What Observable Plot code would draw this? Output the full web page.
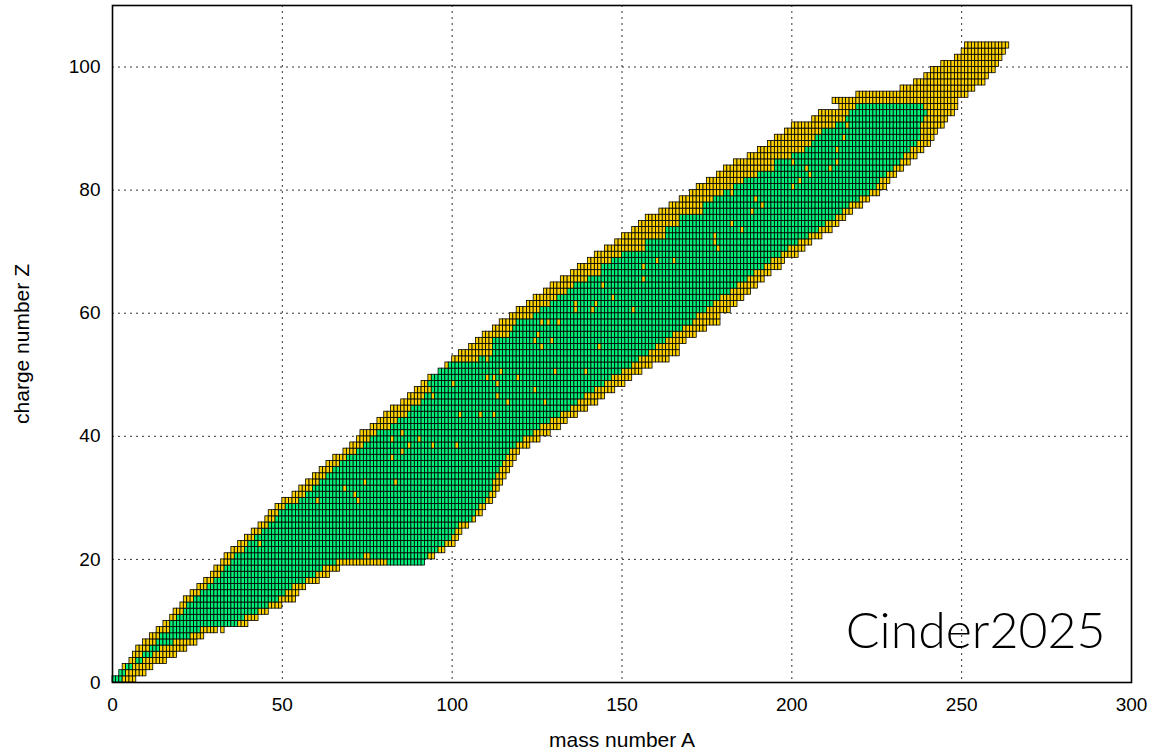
<!DOCTYPE html>
<html>
<head>
<meta charset="utf-8">
<script src="https://cdn.jsdelivr.net/npm/d3@7"></script>
<script src="https://cdn.jsdelivr.net/npm/@observablehq/plot@0.6"></script>
<style>
  body { margin: 0; background: #fff; }
  #chart svg { display: block; }
</style>
</head>
<body>
<div id="chart"></div>
<script>
// Charge number Z of each row of the nuclide map
const zRows = d3.range(0, 104);

// Lightest and heaviest mass number A present in each row
const aFirst = [0,2,3,5,6,7,9,11,13,15, 17,18,20,21,23,25,27,29,30,32,
  33,35,37,39,41,43,45,46,48,50, 53,55,57,59,61,63,65,68,70,72,
  73,76,78,80,82,85,87,89,91,93, 96,98,100,102,105,107,109,112,114,117,
  119,122,124,127,129,132,135,137,140,142, 145,148,150,153,155,157,161,164,167,170,
  172,175,178,180,183,187,190,193,195,198, 200,206,208,214,212,219,232,236,239,241,
  244,248,250,251];
const aLast = [6,9,11,15,18,21,24,26,30,39, 42,45,49,53,54,56,60,63,66,91,
  94,97,100,101,102,104,106,108,109,111, 112,113,114,115,116,117,118,119,122,125,
  128,131,133,136,139,142,144,147,150,152, 155,158,163,166,166,168,171,174,178,178,
  181,183,185,187,189,191,193,196,197,201, 203,205,208,211,213,215,217,220,222,225,
  227,228,230,232,234,236,238,240,241,242, 244,245,247,248,248,251,253,256,257,259,
  260,261,262,263];

// Mass range of the green core of each row (null: row has no green cells)
const greenFirst = [0,2,4,7,9,11,13,14,17,17, 19,21,22,24,26,28,30,32,33,35,
  36,39,40,42,44,46,48,49,51,55, 57,59,61,63,65,67,69,72,74,76,
  78,82,84,87,88,91,92,94,93,94, 96,99,108,112,112,112,117,118,119,124,
  126,129,131,134,136,140,144,144,147,150, 157,157,163,163,167,167,174,174,177,180,
  183,186,190,195,195,199,204,206,207,209, 213,216,217,219,null,null,null,null,null,null,
  null,null,null,null];
const greenLast = [2,3,5,8,11,13,17,22,25,36, 38,42,45,48,50,52,56,59,61,91,
  92,95,97,99,100,101,105,106,107,109, 110,111,111,112,113,114,115,116,118,120,
  123,125,128,131,134,136,138,141,144,146, 149,152,154,157,159,162,164,167,170,171,
  174,176,178,181,183,186,188,191,193,196, 198,201,204,207,209,212,214,216,219,222,
  224,225,227,229,231,232,234,236,237,237, 237,238,239,238,null,null,null,null,null,null,
  null,null,null,null];

// Gold run inside the green core
const runZ = [19];
const runFirst = [66];
const runLast = [80];

// Isolated gold cells
const strayZ = [8,20,20,22,29,29,30,31,32,32,36,37,38,38,38,39,39,40,43,43,43,45,45,46,46,47,
  48,48,49,49,49,50,50,50,52,54,54,55,55,56,58,58,58,60,60,60,61,61,62,64,65,67,68,68,
  70,71,72,73,74,76,77,78,79,79,80,81,82,83,83,84,84,85,86,88,90];
const strayA = [32,74,75,43,60,72,71,68,74,83,82,85,87,94,101,82,90,85,102,108,112,116,127,94,113,124,
  100,113,110,112,119,114,130,139,110,126,143,124,129,125,126,128,131,136,141,153,136,142,147,144,156,156,160,165,
  178,177,177,185,182,188,191,189,179,182,200,202,205,204,211,200,213,199,213,215,216];

const xTicks = [0, 50, 100, 150, 200, 250, 300];
const yTicks = [0, 20, 40, 60, 80, 100];

const GREEN = "#00f07a";
const GOLD = "#ffd200";

// Expand the row ranges into individual cells
const gold = new Set(strayZ.map((z, i) => `${z}:${strayA[i]}`));
runZ.forEach((z, i) => {
  for (let a = runFirst[i]; a <= runLast[i]; a++) gold.add(`${z}:${a}`);
});
const cells = [];
const seen = new Set();
zRows.forEach((z, i) => {
  for (let a = aFirst[i]; a <= aLast[i]; a++) {
    const key = `${z}:${a}`;
    const core = greenFirst[i] != null && a >= greenFirst[i] && a <= greenLast[i];
    cells.push({A: a, Z: z, fill: core && !gold.has(key) ? GREEN : GOLD});
    seen.add(key);
  }
});
strayZ.forEach((z, i) => {
  const key = `${z}:${strayA[i]}`;
  if (!seen.has(key)) { cells.push({A: strayA[i], Z: z, fill: GOLD}); seen.add(key); }
});

const font = "'Liberation Sans', Arial, Helvetica, sans-serif";

const chart = Plot.plot({
  width: 1153,
  height: 753,
  marginLeft: 112,
  marginRight: 22,
  marginTop: 5,
  marginBottom: 71,
  style: {fontFamily: font, fontSize: "19px", color: "#000", background: "#fff"},
  x: {domain: [0, 300], label: null},
  y: {domain: [0, 110], label: null},
  marks: [
    Plot.gridX(xTicks, {stroke: "#000", strokeOpacity: 0.8, strokeWidth: 1, strokeDasharray: "2,4"}),
    Plot.gridY(yTicks, {stroke: "#000", strokeOpacity: 0.8, strokeWidth: 1, strokeDasharray: "2,4"}),
    Plot.rect(cells, {
      x1: "A", x2: d => d.A + 1, y1: "Z", y2: d => d.Z + 1,
      fill: "fill", stroke: "#000", strokeWidth: 0.8
    }),
    Plot.frame({stroke: "#000", strokeWidth: 1.6}),
    Plot.axisX(xTicks, {anchor: "bottom", tickSize: 0, tickPadding: 15, fontSize: 19, label: null}),
    Plot.axisY(yTicks, {anchor: "left", tickSize: 0, tickPadding: 12, fontSize: 19, label: null}),
    Plot.text(["mass number A"], {frameAnchor: "bottom", dy: 58, lineAnchor: "middle", fontSize: 21}),
    Plot.text(["charge number Z"], {
      frameAnchor: "left", dx: -90, rotate: -90, textAnchor: "middle", lineAnchor: "middle", fontSize: 21
    }),
    Plot.text(["Cinder2025"], {
      frameAnchor: "bottom-right", dx: -26, dy: -35, textAnchor: "end", lineAnchor: "bottom",
      fontSize: 50, fontFamily: "Lato, 'Open Sans', sans-serif", fontWeight: 300
    })
  ]
});

document.getElementById("chart").append(chart);
</script>
</body>
</html>
